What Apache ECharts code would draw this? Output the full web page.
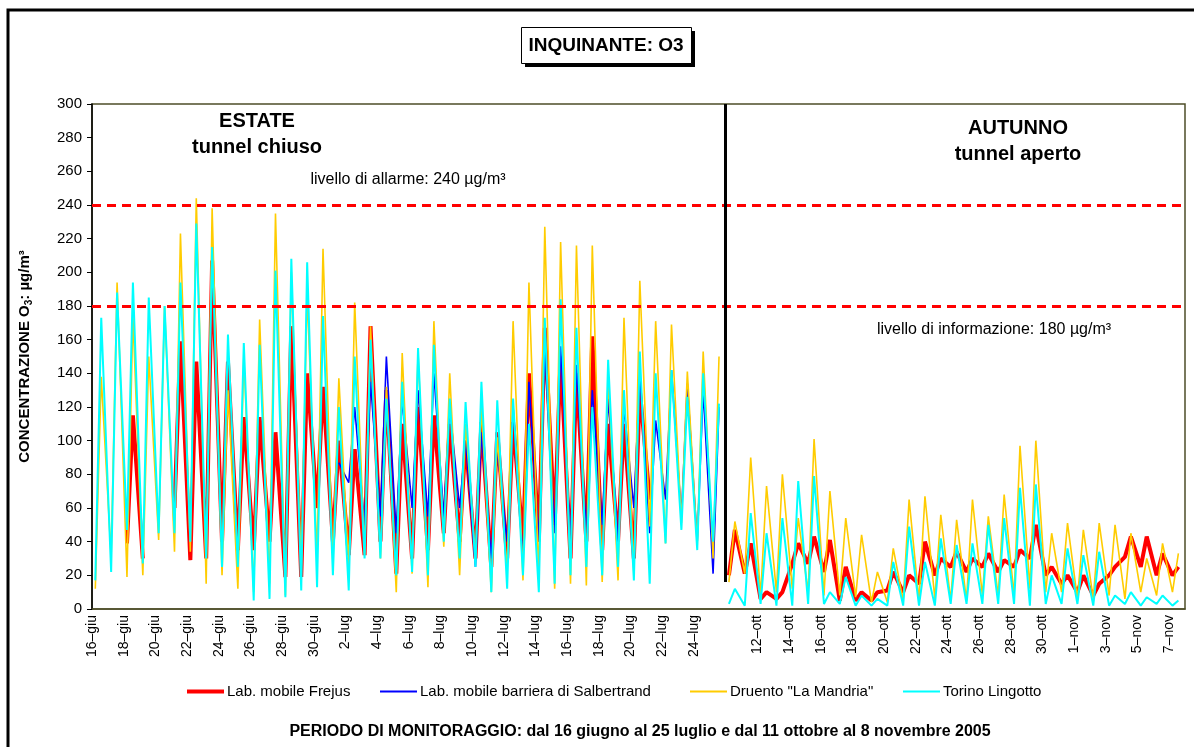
<!DOCTYPE html>
<html>
<head>
<meta charset="utf-8">
<script src="https://cdn.jsdelivr.net/npm/echarts@6/dist/echarts.min.js"></script>
<style>
html,body{margin:0;padding:0;background:#fff;}
#c{width:1194px;height:747px;}
</style>
</head>
<body>
<div id="c"></div>
<script>
// ---------- DATA ----------
// tick labels every 2 days (position 40 = start of autumn block, no label)
const summerTickLabels = ['16–giu','18–giu','20–giu','22–giu','24–giu','26–giu','28–giu','30–giu','2–lug','4–lug','6–lug','8–lug','10–lug','12–lug','14–lug','16–lug','18–lug','20–lug','22–lug','24–lug'];
const autumnTickLabels = ['12–ott','14–ott','16–ott','18–ott','20–ott','22–ott','24–ott','26–ott','28–ott','30–ott','1–nov','3–nov','5–nov','7–nov'];
const tickLabels = summerTickLabels.concat([''], autumnTickLabels);

const seriesNames = ['Lab. mobile Frejus','Lab. mobile barriera di Salbertrand','Druento "La Mandria"','Torino Lingotto'];

// daily [morning minimum, afternoon maximum] readings, µg/m³
const frejusSummer = [[null,null],[null,null],[39,115],[30,null],[null,null],[60,159],[29,147],[30,207],[40,147],[35,114],
 [35,114],[40,105],[19,168],[19,140],[60,132],[40,100],[32,95],[32,168],[40,130],[21,110],
 [30,120],[35,115],[45,110],[40,100],[30,111],[25,105],[30,111],[40,140],[40,167],[50,150],
 [30,140],[40,162],[35,110],[40,110],[30,130],[65,null],[null,null],[null,null],[null,null],[null,null]];
const salbertrandSummer = [[null,null],[null,null],[null,null],[null,null],[null,null],[null,null],[null,null],[null,null],[null,null],[null,null],
 [null,null],[null,null],[null,null],[null,null],[null,null],[null,87],[75,120],[50,135],[55,150],[45,125],
 [60,130],[55,140],[55,120],[60,100],[25,105],[30,95],[40,120],[30,135],[40,155],[45,156],
 [40,145],[45,130],[50,125],[40,120],[60,140],[45,112],[65,142],[55,134],[40,130],[21,120]];
const druentoSummer = [[12,138],[31,194],[19,174],[20,150],[41,180],[34,223],[34,244],[15,238],[20,130],[12,150],
 [10,172],[15,235],[8,200],[25,188],[30,214],[27,137],[25,182],[32,168],[30,132],[10,152],
 [21,152],[13,171],[37,140],[20,110],[30,120],[10,102],[22,171],[17,194],[18,227],[12,218],
 [15,216],[14,216],[16,138],[17,173],[20,195],[49,171],[39,169],[51,141],[38,153],[30,150]];
const torinoSummer = [[17,173],[22,188],[47,194],[27,185],[45,180],[45,194],[40,229],[30,215],[25,163],[25,158],
 [5,157],[6,201],[7,208],[11,206],[13,174],[20,120],[11,150],[30,160],[30,125],[20,135],
 [22,155],[20,157],[40,125],[30,123],[25,135],[10,124],[12,125],[20,110],[10,173],[15,184],
 [20,167],[25,120],[20,148],[25,130],[17,153],[15,140],[39,142],[47,126],[35,140],[40,122]];

const frejusAutumn = [[20,47],[21,39],[6,10],[6,10],[27,39],[27,43],[22,41],[5,25],[5,10],[5,10],
 [11,22],[10,20],[15,40],[20,30],[25,34],[22,30],[25,33],[22,29],[25,35],[30,50],
 [20,25],[15,20],[10,20],[8,15],[20,25],[31,43],[25,43],[20,33],[20,25]];
const druentoAutumn = [[16,52],[21,90],[8,73],[10,80],[12,54],[10,101],[8,70],[8,54],[7,44],[4,22],
 [4,36],[5,65],[5,67],[6,56],[5,53],[5,65],[8,55],[8,68],[8,97],[12,100],
 [10,45],[10,51],[6,47],[6,51],[8,50],[6,45],[10,30],[8,39],[10,33]];
const torinoAutumn = [[3,12],[2,57],[3,45],[2,54],[2,76],[3,79],[3,10],[3,19],[2,8],[2,6],
 [2,28],[2,49],[2,28],[2,42],[3,38],[3,39],[3,50],[3,54],[3,72],[2,74],
 [3,20],[3,36],[3,32],[2,34],[2,8],[3,10],[2,7],[3,8],[2,5]];

const thresholds = [240, 180];
// ---------- BUILD ----------
const LOW_HOUR = 5, PEAK_HOUR = 14;
const SUMMER_START = 0, AUTUMN_START = summerTickLabels.length * 2;
function toPoints(pairs, firstDay) {
  const out = [];
  pairs.forEach((p, i) => {
    out.push([firstDay + i + LOW_HOUR / 24, p[0] == null ? '-' : p[0]]);
    out.push([firstDay + i + PEAK_HOUR / 24, p[1] == null ? '-' : p[1]]);
  });
  return out;
}
const FONT = "'Liberation Sans', Arial, sans-serif";
const colors = ['#FF0000', '#0000FF', '#FFCC00', '#00FFFF'];
const widths = [4, 1.6, 1.6, 2];
function mkSeries(idx, pairs, start) {
  return {
    type: 'line', name: seriesNames[idx], data: toPoints(pairs, start),
    showSymbol: false, symbol: 'none', connectNulls: false, silent: true,
    itemStyle: { color: colors[idx] },
    lineStyle: { color: colors[idx], width: widths[idx] },
    z: 2
  };
}
const series = [
  mkSeries(0, frejusSummer, SUMMER_START),
  mkSeries(0, frejusAutumn, AUTUMN_START),
  mkSeries(1, salbertrandSummer, SUMMER_START),
  mkSeries(2, druentoSummer, SUMMER_START),
  mkSeries(2, druentoAutumn, AUTUMN_START),
  mkSeries(3, torinoSummer, SUMMER_START),
  mkSeries(3, torinoAutumn, AUTUMN_START),
  {
    type: 'line', name: 'marks', data: [], z: 5, silent: true,
    markLine: {
      silent: true, symbol: 'none', animation: false,
      label: { show: false },
      data: thresholds.map(v => ({ yAxis: v, lineStyle: { color: '#FF0000', type: [9, 6], width: 3 } })).concat([
        [{ coord: [AUTUMN_START, 300], lineStyle: { color: '#000', type: 'solid', width: 3 } }, { coord: [AUTUMN_START, 16] }]
      ])
    }
  }
];

const legendPos = [187, 380, 690, 903];
const legends = seriesNames.map((n, i) => ({
  data: [n], left: legendPos[i], top: 684, icon: 'rect', padding: 0,
  itemWidth: 37, itemHeight: i === 0 ? 4 : 2, itemGap: 0, selectedMode: false,
  textStyle: { fontFamily: FONT, fontSize: 15, color: '#000', padding: [0, 0, 0, -2] }
}));

const chart = echarts.init(document.getElementById('c'), null, { renderer: 'canvas' });
chart.setOption({
  animation: false,
  backgroundColor: '#fff',
  textStyle: { fontFamily: FONT },
  grid: { left: 92, right: 9, top: 104, bottom: 138, show: true, borderColor: '#4d4d28', borderWidth: 1.5 },
  legend: legends,
  xAxis: {
    type: 'value', min: 0, max: 69, interval: 2,
    axisLine: { show: true, lineStyle: { color: '#4d4d28', width: 1.5 } },
    axisTick: { show: false }, splitLine: { show: false },
    axisLabel: {
      rotate: 90, fontSize: 14, color: '#000', margin: 6, fontFamily: FONT,
      showMaxLabel: false,
      formatter: v => { const i = v / 2; return Number.isInteger(i) && tickLabels[i] ? tickLabels[i] : ''; }
    }
  },
  yAxis: {
    type: 'value', min: 0, max: 300, interval: 20,
    axisLine: { show: true, lineStyle: { color: '#000', width: 1.5 } },
    axisTick: { show: true, length: 5, lineStyle: { color: '#000' } },
    splitLine: { show: false },
    axisLabel: { fontSize: 15, color: '#000', margin: 10, fontFamily: FONT },
    name: '{b|CONCENTRAZIONE O}{s|3}{b|: µg/m³}',
    nameLocation: 'middle', nameRotate: 90, nameGap: 58,
    nameTextStyle: {
      rich: {
        b: { fontFamily: FONT, fontWeight: 'bold', fontSize: 15, color: '#000' },
        s: { fontFamily: FONT, fontWeight: 'bold', fontSize: 10, color: '#000', padding: [9, 0, 0, 0] }
      }
    }
  },
  series: series,
  graphic: [
    { type: 'rect', shape: { x: 8, y: 10, width: 1260, height: 820 }, style: { fill: 'none', stroke: '#000', lineWidth: 3 }, silent: true },
    { type: 'rect', shape: { x: 525, y: 31, width: 170, height: 36 }, style: { fill: '#000' }, silent: true },
    { type: 'rect', shape: { x: 521.5, y: 27.5, width: 170, height: 36 }, style: { fill: '#fff', stroke: '#000', lineWidth: 1 }, silent: true },
    { type: 'text', x: 606, y: 46, style: { text: 'INQUINANTE: O3', font: "bold 19px " + FONT, fill: '#000', textAlign: 'center', textVerticalAlign: 'middle' } },
    { type: 'text', x: 257, y: 121, style: { text: 'ESTATE', font: "bold 20px " + FONT, fill: '#000', textAlign: 'center', textVerticalAlign: 'middle' } },
    { type: 'text', x: 257, y: 147, style: { text: 'tunnel chiuso', font: "bold 20px " + FONT, fill: '#000', textAlign: 'center', textVerticalAlign: 'middle' } },
    { type: 'text', x: 1018, y: 128, style: { text: 'AUTUNNO', font: "bold 20px " + FONT, fill: '#000', textAlign: 'center', textVerticalAlign: 'middle' } },
    { type: 'text', x: 1018, y: 154, style: { text: 'tunnel aperto', font: "bold 20px " + FONT, fill: '#000', textAlign: 'center', textVerticalAlign: 'middle' } },
    { type: 'text', x: 408, y: 180, style: { text: 'livello di allarme: 240 µg/m³', font: "16px " + FONT, fill: '#000', textAlign: 'center', textVerticalAlign: 'middle' } },
    { type: 'text', x: 994, y: 330, style: { text: 'livello di informazione: 180 µg/m³', font: "16px " + FONT, fill: '#000', textAlign: 'center', textVerticalAlign: 'middle' } },
    { type: 'text', x: 640, y: 732, style: { text: 'PERIODO DI MONITORAGGIO: dal 16 giugno al 25 luglio e dal 11 ottobre al 8 novembre 2005', font: "bold 16px " + FONT, fill: '#000', textAlign: 'center', textVerticalAlign: 'middle' } }
  ]
});
</script>
</body>
</html>
